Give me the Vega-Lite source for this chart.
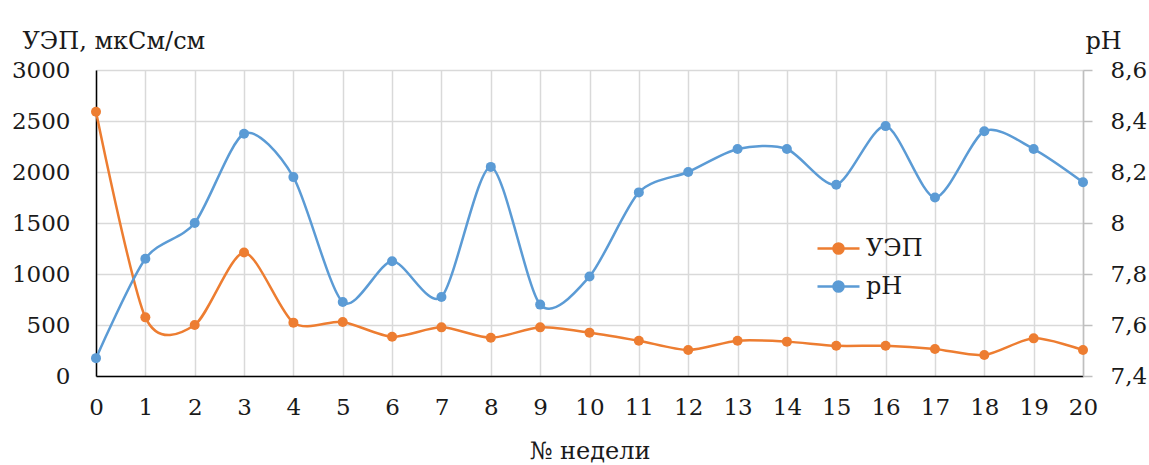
{
  "$schema": "https://vega.github.io/schema/vega-lite/v6.json",
  "width": 987,
  "height": 306,
  "autosize": {"type": "none"},
  "padding": {"left": 96, "top": 70, "right": 66, "bottom": 89},
  "background": "white",
  "config": {
    "view": {"stroke": null},
    "font": "DejaVu Serif",
    "axis": {"labelFont": "DejaVu Serif", "titleFont": "DejaVu Serif", "labelColor": "#1a1a1a", "titleColor": "#1a1a1a", "labelFontSize": 23, "titleFontSize": 24, "titleFontWeight": "normal", "gridColor": "#d9d9d9", "gridWidth": 1.5},
    "legend": {"labelFont": "DejaVu Serif", "labelFontSize": 24, "labelColor": "#1a1a1a"}
  },
  "data": {
    "values": [
      {"week": 0, "uep": 2590, "ph": 7.47},
      {"week": 1, "uep": 575, "ph": 7.86},
      {"week": 2, "uep": 500, "ph": 8.0},
      {"week": 3, "uep": 1210, "ph": 8.35},
      {"week": 4, "uep": 523, "ph": 8.18},
      {"week": 5, "uep": 530, "ph": 7.69},
      {"week": 6, "uep": 385, "ph": 7.85},
      {"week": 7, "uep": 477, "ph": 7.71},
      {"week": 8, "uep": 375, "ph": 8.22},
      {"week": 9, "uep": 477, "ph": 7.68},
      {"week": 10, "uep": 425, "ph": 7.79},
      {"week": 11, "uep": 346, "ph": 8.12},
      {"week": 12, "uep": 255, "ph": 8.2},
      {"week": 13, "uep": 346, "ph": 8.29},
      {"week": 14, "uep": 337, "ph": 8.29},
      {"week": 15, "uep": 296, "ph": 8.15},
      {"week": 16, "uep": 296, "ph": 8.38},
      {"week": 17, "uep": 265, "ph": 8.1},
      {"week": 18, "uep": 206, "ph": 8.36},
      {"week": 19, "uep": 369, "ph": 8.29},
      {"week": 20, "uep": 255, "ph": 8.16}
    ]
  },
  "encoding": {
    "x": {
      "field": "week",
      "type": "quantitative",
      "scale": {"domain": [0, 20], "nice": false, "zero": false},
      "axis": {
        "title": "№ недели",
        "values": [0,1,2,3,4,5,6,7,8,9,10,11,12,13,14,15,16,17,18,19,20],
        "format": "d",
        "grid": true,
        "ticks": false,
        "domainColor": "#000000",
        "domainWidth": 1.5,
        "labelPadding": 20,
        "labelFlush": false,
        "labelOverlap": false,
        "titleBaseline": "alphabetic",
        "titleY": 82
      }
    }
  },
  "layer": [
    {
      "mark": {"type": "line", "interpolate": "cardinal", "tension": 0.2, "strokeWidth": 2.5, "point": {"filled": true, "size": 100, "opacity": 1}},
      "encoding": {
        "y": {
          "field": "uep",
          "type": "quantitative",
          "scale": {"domain": [0, 3000], "nice": false},
          "axis": {
            "orient": "left",
            "title": "УЭП, мкСм/см",
            "values": [0, 500, 1000, 1500, 2000, 2500, 3000],
            "format": "d",
            "grid": true,
            "ticks": false,
            "tickSize": 0,
            "domainColor": "#000000",
            "domainWidth": 1.5,
            "labelPadding": 26,
            "labelFlush": false,
            "titleAngle": 0,
            "titleAlign": "left",
            "titleBaseline": "alphabetic",
            "titleX": -74,
            "titleY": -22
          }
        },
        "color": {
          "datum": "УЭП",
          "type": "nominal",
          "scale": {"domain": ["УЭП", "pH"], "range": ["#ED7D31", "#5B9BD5"]},
          "legend": {
            "title": null,
            "orient": "none",
            "legendX": 720,
            "legendY": 156,
            "symbolType": "M -1 0 L 1 0 M -0.24 0 A 0.24 0.24 0 1 0 0.24 0 A 0.24 0.24 0 1 0 -0.24 0",
            "symbolSize": 1764,
            "symbolStrokeWidth": 2.5,
            "labelOffset": 5,
            "rowPadding": 3,
            "encode": {
              "symbols": {
                "update": {
                  "fill": {"scale": "color", "field": "value"},
                  "stroke": {"scale": "color", "field": "value"},
                  "strokeWidth": {"value": 2.5},
                  "opacity": {"value": 1}
                }
              }
            }
          }
        }
      }
    },
    {
      "mark": {"type": "line", "interpolate": "cardinal", "tension": 0.2, "strokeWidth": 2.5, "point": {"filled": true, "size": 100, "opacity": 1}},
      "encoding": {
        "y": {
          "field": "ph",
          "type": "quantitative",
          "scale": {"domain": [7.4, 8.6], "nice": false, "zero": false},
          "axis": {
            "orient": "right",
            "title": "pH",
            "values": [7.4, 7.6, 7.8, 8.0, 8.2, 8.4, 8.6],
            "format": ".1~f",
            "labelExpr": "replace(datum.label, '.', ',')",
            "grid": false,
            "ticks": true,
            "tickSize": 9,
            "tickColor": "#bfbfbf",
            "tickWidth": 1.5,
            "domainColor": "#bfbfbf",
            "domainWidth": 1.5,
            "labelPadding": 18,
            "labelFlush": false,
            "titleAngle": 0,
            "titleAlign": "left",
            "titleBaseline": "alphabetic",
            "titleX": 2,
            "titleY": -22
          }
        },
        "color": {"datum": "pH", "type": "nominal"}
      }
    }
  ],
  "resolve": {"scale": {"y": "independent"}}
}
